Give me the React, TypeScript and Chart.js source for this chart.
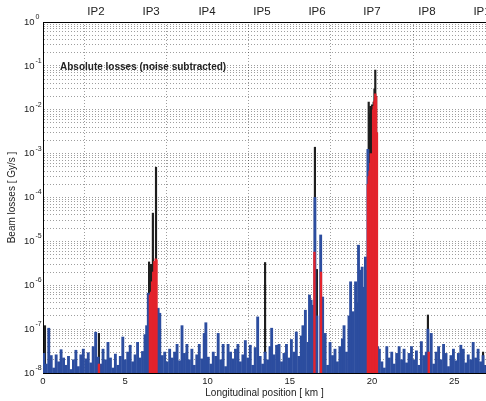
import { useEffect, useRef } from 'react';
import { Chart, registerables } from 'chart.js';

Chart.register(...registerables);

const FONT = '"Liberation Sans", Arial, Helvetica, sans-serif';
const FLOOR = 1e-8;
const X_MAX = 26.93;

const X_TITLE = 'Longitudinal position [ km ]';
const Y_TITLE = 'Beam losses [ Gy/s ]';
const PANEL_TITLE = 'Absolute losses (noise subtracted)';

const xTicks = [0, 5, 10, 15, 20, 25];
const ipKm = [3.22, 6.57, 9.97, 13.31, 16.66, 20.0, 23.34, 26.69];
const ipLabels = ['IP2', 'IP3', 'IP4', 'IP5', 'IP6', 'IP7', 'IP8', 'IP1'];
const decadeExp = [0, -1, -2, -3, -4, -5, -6, -7, -8];

// Blue: BLM losses (noise subtracted)
const blueKm = [
  0.05, 0.2, 0.35, 0.5, 0.65, 0.8, 0.95, 1.1, 1.25, 1.4,
  1.55, 1.7, 1.85, 2.0, 2.15, 2.3, 2.45, 2.6, 2.75, 2.9,
  3.05, 3.2, 3.35, 3.5, 3.65, 3.8, 3.95, 4.1, 4.25, 4.4,
  4.55, 4.7, 4.85, 5.0, 5.15, 5.3, 5.45, 5.6, 5.75, 5.9,
  6.05, 6.2, 6.3, 6.4, 7.0, 7.1, 7.25, 7.4, 7.55, 7.7,
  7.85, 8.0, 8.15, 8.3, 8.45, 8.6, 8.75, 8.9, 9.05, 9.2,
  9.35, 9.5, 9.65, 9.8, 9.9, 10.05, 10.2, 10.35, 10.5, 10.65,
  10.8, 10.95, 11.1, 11.25, 11.4, 11.55, 11.7, 11.85, 12.0, 12.15,
  12.3, 12.45, 12.6, 12.75, 12.9, 13.05, 13.2, 13.35, 13.5, 13.65,
  13.8, 13.9, 14.05, 14.2, 14.35, 14.5, 14.65, 14.8, 14.95, 15.1,
  15.25, 15.4, 15.55, 15.7, 15.8, 15.95, 16.1, 16.2, 16.3, 16.4,
  16.53, 16.65, 16.88, 17.0, 17.15, 17.3, 17.45, 17.6, 17.75, 17.9,
  18.05, 18.2, 18.3, 18.45, 18.6, 18.7, 18.85, 19.0, 19.1, 19.18,
  19.3, 19.4, 19.5, 19.6, 19.68, 19.75, 20.35, 20.45, 20.6, 20.75,
  20.9, 21.05, 21.2, 21.35, 21.5, 21.65, 21.8, 21.95, 22.1, 22.25,
  22.4, 22.55, 22.7, 22.85, 23.0, 23.15, 23.3, 23.4, 23.6, 23.75,
  23.9, 24.05, 24.2, 24.35, 24.5, 24.65, 24.8, 24.95, 25.1, 25.25,
  25.4, 25.55, 25.7, 25.85, 26.0, 26.15, 26.3, 26.45, 26.6, 26.75,
  26.9,
];
const blueLoss = [
  2.8e-8, 1.6e-8, 10.5e-8, 2.5e-8, 1.3e-8, 2.6e-8, 1.8e-8, 3.4e-8, 2.2e-8, 1.5e-8,
  2.4e-8, 1.2e-8, 2.0e-8, 3.3e-8, 1.4e-8, 2.6e-8, 3.5e-8, 2.1e-8, 2.9e-8, 1.7e-8,
  4.0e-8, 8.5e-8, 2.3e-8, 1.6e-8, 3.5e-8, 2.0e-8, 5.0e-8, 2.2e-8, 1.3e-8, 2.7e-8,
  1.5e-8, 2.4e-8, 6.6e-8, 2.0e-8, 3.0e-8, 4.3e-8, 1.8e-8, 2.6e-8, 5.0e-8, 2.2e-8,
  3.1e-8, 7.5e-8, 1.2e-7, 6.6e-7, 3.0e-7, 2.3e-7, 2.5e-8, 3.0e-8, 1.8e-8, 3.5e-8,
  2.2e-8, 3.0e-8, 4.5e-8, 1.9e-8, 1.2e-7, 2.8e-8, 4.5e-8, 2.0e-8, 3.5e-8, 1.5e-8,
  2.6e-8, 4.5e-8, 2.1e-8, 8.0e-8, 1.4e-7, 2.3e-8, 1.6e-8, 3.0e-8, 2.4e-8, 8.0e-8,
  2.0e-8, 4.5e-8, 1.4e-8, 4.5e-8, 3.0e-8, 2.1e-8, 3.5e-8, 4.5e-8, 1.8e-8, 2.6e-8,
  5.5e-8, 2.2e-8, 4.3e-8, 1.5e-8, 3.8e-8, 1.9e-7, 2.4e-8, 1.6e-8, 3.0e-8, 2.0e-8,
  4.0e-8, 1.05e-7, 2.6e-8, 4.3e-8, 4.5e-8, 1.8e-8, 2.8e-8, 4.5e-8, 2.2e-8, 5.8e-8,
  3.0e-8, 8.6e-8, 2.4e-8, 7.0e-8, 1.2e-7, 2.7e-7, 5.0e-8, 6.0e-7, 4.6e-7, 3.5e-7,
  1.0e-4, 2.0e-7, 1.4e-5, 5.4e-7, 8.0e-8, 1.5e-8, 5.0e-8, 2.5e-8, 3.5e-8, 1.8e-8,
  4.0e-8, 6.0e-8, 1.2e-7, 3.0e-8, 2.0e-7, 1.2e-6, 2.5e-7, 1.2e-6, 4.0e-7, 8.2e-6,
  2.2e-6, 2.6e-6, 9.0e-7, 4.4e-6, 2.2e-6, 1.25e-3, 4.0e-8, 3.5e-8, 1.8e-8, 1.3e-8,
  4.0e-8, 2.2e-8, 3.0e-8, 1.6e-8, 2.8e-8, 4.0e-8, 2.0e-8, 3.5e-8, 1.7e-8, 2.8e-8,
  4.0e-8, 2.0e-8, 3.2e-8, 1.5e-8, 5.2e-8, 2.5e-8, 3.0e-8, 1.0e-7, 8.0e-8, 1.6e-8,
  3.0e-8, 4.0e-8, 2.0e-8, 4.5e-8, 2.8e-8, 1.4e-8, 2.5e-8, 3.5e-8, 1.9e-8, 2.8e-8,
  4.3e-8, 3.5e-8, 1.7e-8, 2.6e-8, 2.0e-8, 5.0e-8, 2.2e-8, 3.5e-8, 1.8e-8, 2.5e-8,
  1.5e-8,
];

// Red: collimator losses
const redKm = [
  3.4,
  6.5, 6.57, 6.63, 6.7, 6.77, 6.85, 6.9,
  16.5, 16.9,
  19.75, 19.8, 19.85, 19.9, 19.93, 20.07, 20.1, 20.15, 20.2, 20.25, 20.3,
  23.45,
];
const redLoss = [
  1.6e-8,
  6e-7, 7e-7, 1.2e-6, 2e-6, 3.5e-6, 4e-6, 3.8e-6,
  5.7e-6, 2e-6,
  2e-4, 3e-4, 4e-4, 6e-4, 1e-3, 1e-2, 1.2e-2, 1.6e-2, 2.3e-2, 2e-2, 3e-3,
  3e-8,
];

// Black: peak losses
const blackKm = [
  0.12, 3.4,
  6.45, 6.57, 6.68, 6.87,
  13.5,
  16.53, 16.65,
  19.8, 19.85, 19.9, 19.95, 20.0, 20.05, 20.1, 20.15, 20.2, 20.25,
  23.4, 26.75,
];
const blackLoss = [
  1.2e-7, 8e-8,
  3.4e-6, 3e-6, 4.4e-5, 4.9e-4,
  3.3e-6,
  1.4e-3, 2.3e-6,
  1.5e-2, 8e-3, 1.2e-2, 1e-2, 1.3e-2, 1.1e-2, 1.5e-2, 3e-2, 8e-2, 2e-2,
  2.1e-7, 3e-8,
];

const yTickValues: number[] = [];
for (let e = -8; e < 0; e++) {
  for (let m = 1; m <= 9; m++) yTickValues.push(m * Math.pow(10, e));
}
yTickValues.push(1);

const toBars = (km: number[], loss: number[]) =>
  km.map((x, i) => ({ x, y: [FLOOR, loss[i]] }));

const GRID_COLOR = 'rgba(0,0,0,0.38)';

const overlayPlugin = {
  id: 'overlayText',
  afterDraw(chart: any) {
    const { ctx, chartArea } = chart;
    const yScale = chart.scales.y;
    ctx.save();
    ctx.fillStyle = '#222';
    ctx.font = `bold 10px ${FONT}`;
    ctx.textAlign = 'left';
    ctx.textBaseline = 'middle';
    ctx.fillText(PANEL_TITLE, chartArea.left + 17, yScale.getPixelForValue(0.1) + 1);
    const xr = chartArea.left - 8.5;
    decadeExp.forEach((e) => {
      const y = yScale.getPixelForValue(Math.pow(10, e));
      ctx.font = `9.5px ${FONT}`;
      ctx.textAlign = 'right';
      ctx.textBaseline = 'middle';
      ctx.fillText('10', xr, y);
      ctx.font = `7px ${FONT}`;
      ctx.textAlign = 'left';
      ctx.fillText(String(e), xr + 1, y - 5);
    });
    ctx.restore();
  },
};

export default function App() {
  const ref = useRef<HTMLCanvasElement | null>(null);

  useEffect(() => {
    if (!ref.current) return;
    const chart = new Chart(ref.current, {
      type: 'bar',
      data: {
        datasets: [
          {
            label: 'collimators',
            data: toBars(redKm, redLoss) as any,
            backgroundColor: '#e3232c',
            barThickness: 1.7,
            grouped: false,
            borderWidth: 0,
            order: 0,
          } as any,
          {
            label: 'losses',
            data: toBars(blueKm, blueLoss) as any,
            backgroundColor: '#2c4d9f',
            barThickness: 2.2,
            grouped: false,
            borderWidth: 0,
            order: 1,
          } as any,
          {
            label: 'peak',
            data: toBars(blackKm, blackLoss) as any,
            backgroundColor: '#1e1e1e',
            barThickness: 1.5,
            grouped: false,
            borderWidth: 0,
            order: 2,
          } as any,
        ],
      },
      options: {
        animation: false,
        responsive: false,
        layout: { padding: 0 },
        plugins: {
          legend: { display: false },
          tooltip: { enabled: false },
          title: { display: false },
        },
        scales: {
          x: {
            type: 'linear',
            position: 'bottom',
            min: 0,
            max: X_MAX,
            offset: false,
            afterBuildTicks: (s: any) => {
              s.ticks = xTicks.map((v) => ({ value: v }));
            },
            afterFit: (s: any) => {
              s.height = 28;
              s.paddingLeft = 0;
              s.paddingRight = 0;
            },
            grid: { color: GRID_COLOR, lineWidth: 1, drawTicks: false },
            border: { display: true, color: '#000', width: 1, dash: [1, 2] },
            ticks: {
              font: { family: FONT, size: 9.5 },
              color: '#222',
              padding: 3,
              maxRotation: 0,
              autoSkip: false,
            },
            title: {
              display: true,
              text: X_TITLE,
              font: { family: FONT, size: 10 },
              color: '#222',
              padding: { top: 0, bottom: 2 },
            },
          },
          x2: {
            type: 'linear',
            position: 'top',
            min: 0,
            max: X_MAX,
            offset: false,
            afterBuildTicks: (s: any) => {
              s.ticks = ipKm.map((v) => ({ value: v }));
            },
            afterFit: (s: any) => {
              s.height = 22;
              s.paddingLeft = 0;
              s.paddingRight = 0;
            },
            grid: { display: false, drawTicks: false },
            border: { display: true, color: '#000', width: 1 },
            ticks: {
              callback: (_v: any, i: number) => ipLabels[i],
              font: { family: FONT, size: 11.5 },
              color: '#222',
              padding: 3,
              maxRotation: 0,
              autoSkip: false,
            },
          },
          y: {
            type: 'logarithmic',
            min: FLOOR,
            max: 1,
            afterBuildTicks: (s: any) => {
              s.ticks = yTickValues.map((v) => ({ value: v }));
            },
            afterFit: (s: any) => {
              s.width = 43;
              s.paddingTop = 0;
              s.paddingBottom = 0;
            },
            grid: { color: GRID_COLOR, lineWidth: 1, drawTicks: false },
            border: { display: true, color: '#000', width: 1, dash: [1, 2] },
            ticks: { callback: () => '', autoSkip: false },
            title: {
              display: true,
              text: Y_TITLE,
              font: { family: FONT, size: 10 },
              color: '#222',
              padding: 6,
            },
          },
        },
      } as any,
      plugins: [overlayPlugin],
    });
    return () => chart.destroy();
  }, []);

  return (
    <div style={{ position: 'absolute', left: 0, top: 0, width: 486, height: 401 }}>
      <canvas ref={ref} width={486} height={401} />
    </div>
  );
}
